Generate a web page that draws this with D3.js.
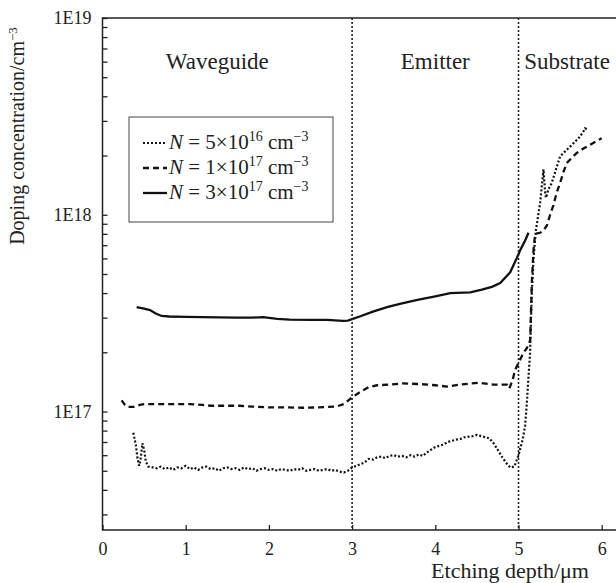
<!DOCTYPE html>
<html>
<head>
<meta charset="utf-8">
<script src="https://cdn.jsdelivr.net/npm/d3@7"></script>
<style>
  body { margin: 0; background: #fff; }
  text { font-family: 'Liberation Serif', 'Times New Roman', Times, 'DejaVu Serif', serif; fill: #222; }
</style>
</head>
<body>
<div id="chart"></div>
<script>
// data: depth in um, doping in cm^-3
const low_x = [0.37, 0.40, 0.42, 0.44, 0.46, 0.48, 0.50, 0.52, 0.55, 0.60, 0.65, 0.70, 0.75, 0.80, 0.85, 0.90, 0.95, 1.00,
    1.05, 1.10, 1.15, 1.20, 1.25, 1.30, 1.35, 1.40, 1.45, 1.50, 1.55, 1.60, 1.65, 1.70, 1.75, 1.80, 1.85, 1.90, 1.95, 2.00,
    2.05, 2.10, 2.15, 2.20, 2.25, 2.30, 2.35, 2.40, 2.45, 2.50, 2.55, 2.60, 2.65, 2.70, 2.75, 2.80, 2.85, 2.90, 2.95, 3.00,
    3.05, 3.10, 3.15, 3.20, 3.25, 3.30, 3.35, 3.40, 3.45, 3.50, 3.55, 3.60, 3.65, 3.70, 3.75, 3.80, 3.85, 3.90, 3.95, 4.00,
    4.05, 4.10, 4.15, 4.20, 4.25, 4.30, 4.35, 4.40, 4.45, 4.50, 4.55, 4.60, 4.65, 4.70, 4.75, 4.80, 4.85, 4.90, 4.95, 5.00,
    5.05, 5.08, 5.10, 5.12, 5.14, 5.15, 5.16, 5.18, 5.21, 5.26, 5.28, 5.30, 5.32, 5.33, 5.36, 5.40, 5.45, 5.50, 5.56, 5.62,
    5.68, 5.74, 5.78, 5.80, 5.82];
const low_y = [7.8e16, 6.8e16, 5.8e16, 5.3e16, 5.8e16, 6.9e16, 6.4e16, 5.6e16, 5.25e16, 5.2e16, 5.15e16, 5.25e16, 5.1e16, 5.2e16, 5.05e16, 5.2e16, 5.15e16, 5.3e16,
    5.1e16, 5.2e16, 5.05e16, 5.2e16, 5.25e16, 5.1e16, 5.15e16, 5.0e16, 5.15e16, 5.2e16, 5.1e16, 5.15e16, 5.05e16, 5.2e16, 5.1e16, 5.15e16, 5.0e16, 5.1e16, 5.15e16, 5.05e16,
    5.1e16, 5.0e16, 5.1e16, 5.05e16, 5.0e16, 5.1e16, 5.05e16, 5.15e16, 5.0e16, 5.05e16, 5.1e16, 5.0e16, 5.05e16, 5.1e16, 5.0e16, 5.05e16, 4.95e16, 4.9e16, 5.0e16, 5.2e16,
    5.3e16, 5.4e16, 5.5e16, 5.75e16, 5.7e16, 5.85e16, 5.9e16, 5.8e16, 5.95e16, 6.0e16, 5.9e16, 5.95e16, 5.85e16, 6.0e16, 5.9e16, 6.05e16, 5.95e16, 6.2e16, 6.4e16, 6.6e16,
    6.7e16, 6.8e16, 7.0e16, 7.1e16, 7.2e16, 7.25e16, 7.4e16, 7.45e16, 7.5e16, 7.6e16, 7.5e16, 7.4e16, 7.3e16, 6.9e16, 6.4e16, 5.9e16, 5.5e16, 5.2e16, 5.25e16, 6.0e16,
    7.2e16, 8.5e16, 1.1e17, 1.5e17, 2.0e17, 2.9e17, 4.0e17, 6.0e17, 8.4e17, 1.15e18, 1.4e18, 1.7e18, 1.3e18, 1.22e18, 1.35e18, 1.45e18, 1.7e18, 1.98e18, 2.1e18, 2.22e18,
    2.35e18, 2.5e18, 2.65e18, 2.75e18, 2.72e18];

const mid_x = [0.23, 0.27, 0.30, 0.37, 0.45, 0.50, 0.70, 0.90, 1.05, 1.20, 1.30, 1.50, 1.65, 1.80, 2.00, 2.20, 2.41, 2.60, 2.81, 2.90,
    3.00, 3.10, 3.20, 3.30, 3.45, 3.60, 3.80, 4.00, 4.14, 4.30, 4.52, 4.70, 4.86, 4.89, 4.93, 4.96, 5.01, 5.06, 5.10, 5.14,
    5.15, 5.16, 5.18, 5.20, 5.26, 5.30, 5.34, 5.38, 5.42, 5.46, 5.50, 5.54, 5.58, 5.64, 5.70, 5.78, 5.86, 5.93, 6.00];
const mid_y = [1.14e17, 1.08e17, 1.055e17, 1.055e17, 1.08e17, 1.09e17, 1.09e17, 1.09e17, 1.09e17, 1.08e17, 1.07e17, 1.07e17, 1.07e17, 1.06e17, 1.05e17, 1.05e17, 1.045e17, 1.05e17, 1.06e17, 1.09e17,
    1.18e17, 1.26e17, 1.33e17, 1.36e17, 1.37e17, 1.39e17, 1.38e17, 1.36e17, 1.34e17, 1.37e17, 1.40e17, 1.37e17, 1.37e17, 1.31e17, 1.45e17, 1.63e17, 1.8e17, 1.99e17, 2.1e17, 2.3e17,
    3.2e17, 4.5e17, 6.6e17, 8.0e17, 8.1e17, 8.3e17, 8.8e17, 1.0e18, 1.12e18, 1.3e18, 1.45e18, 1.65e18, 1.83e18, 1.95e18, 2.06e18, 2.17e18, 2.27e18, 2.36e18, 2.45e18];

const high_x = [0.41, 0.50, 0.57, 0.64, 0.71, 0.80, 1.00, 1.20, 1.40, 1.60, 1.80, 1.93, 2.10, 2.25, 2.50, 2.70, 2.89, 2.95,
    3.00, 3.10, 3.25, 3.43, 3.60, 3.80, 4.00, 4.18, 4.42, 4.56, 4.68, 4.78, 4.90, 4.97, 5.02, 5.08, 5.12];
const high_y = [3.39e17, 3.33e17, 3.28e17, 3.15e17, 3.06e17, 3.04e17, 3.03e17, 3.02e17, 3.01e17, 3.0e17, 3.0e17, 3.02e17, 2.96e17, 2.93e17, 2.92e17, 2.92e17, 2.89e17, 2.9e17,
    2.95e17, 3.05e17, 3.22e17, 3.4e17, 3.55e17, 3.7e17, 3.85e17, 4.0e17, 4.03e17, 4.16e17, 4.3e17, 4.5e17, 5.1e17, 5.9e17, 6.6e17, 7.4e17, 8.1e17];

const series_names = [["5", "16"], ["1", "17"], ["3", "17"]];
const region_names = ["Waveguide", "Emitter", "Substrate"];
const region_bounds = [3, 5];
const x_ticks = [0, 1, 2, 3, 4, 5, 6];

const W = 616, H = 583;
const plot_left = 102.5, plot_right = 601.7, plot_top = 18, plot_bottom = 530;
const FONT = "'Liberation Serif', 'Times New Roman', Times, 'DejaVu Serif', serif";

const svg = d3.select("#chart").append("svg")
    .attr("width", W)
    .attr("height", H)
    .attr("font-family", FONT);

const x = d3.scaleLinear().domain([0, 6]).range([plot_left, plot_right]);
const y = d3.scaleLog().domain([2.5e16, 1e19]).range([plot_bottom, plot_top]);

// curves
const line = d3.line().x(d => x(d[0])).y(d => y(d[1]));
const styles = [
    { w: 2.2, dash: "2,2" },
    { w: 2.3, dash: "6,4" },
    { w: 2.3, dash: null }
];
const series = [d3.zip(low_x, low_y), d3.zip(mid_x, mid_y), d3.zip(high_x, high_y)];

series.forEach((s, i) => {
    svg.append("path")
        .datum(s)
        .attr("d", line)
        .attr("fill", "none")
        .attr("stroke", "#111")
        .attr("stroke-width", styles[i].w)
        .attr("stroke-dasharray", styles[i].dash);
});

// region dividers
region_bounds.forEach(b => {
    svg.append("line")
        .attr("x1", x(b)).attr("x2", x(b))
        .attr("y1", plot_top).attr("y2", plot_bottom)
        .attr("stroke", "#222")
        .attr("stroke-width", 1.6)
        .attr("stroke-dasharray", "2,2");
});

// axes
const yAxis = d3.axisLeft(y)
    .tickSizeInner(-5)
    .tickSizeOuter(0)
    .tickPadding(11)
    .tickFormat(d => {
        let e = Math.round(Math.log10(d));
        return Math.abs(d - Math.pow(10, e)) < 1 ? "1E" + e : "";
    });
const gy = svg.append("g").attr("transform", `translate(${plot_left},0)`).call(yAxis);
gy.attr("font-family", FONT);
gy.select(".domain").remove();
gy.selectAll("line").attr("stroke", "#222").attr("stroke-width", 1.3);
gy.selectAll("text").style("font-size", "18px").attr("fill", "#222");

const xAxis = d3.axisBottom(x)
    .tickValues(x_ticks)
    .tickSizeInner(-5)
    .tickSizeOuter(0)
    .tickPadding(12)
    .tickFormat(d3.format("d"));
const gx = svg.append("g").attr("transform", `translate(0,${plot_bottom})`).call(xAxis);
gx.attr("font-family", FONT);
gx.select(".domain").remove();
gx.selectAll("line").attr("stroke", "#222").attr("stroke-width", 1.3);
gx.selectAll("text").style("font-size", "18px").attr("fill", "#222");

// frame
svg.append("path")
    .attr("d", `M${W},${plot_top}H${plot_left}V${plot_bottom}H${W}`)
    .attr("fill", "none")
    .attr("stroke", "#222")
    .attr("stroke-width", 1.5);

// region labels
const region_pos = [[x(1.38), "middle"], [x(4.0), "middle"], [x(5.07), "start"]];
region_names.forEach((r, i) => {
    svg.append("text")
        .attr("x", region_pos[i][0])
        .attr("y", 69)
        .attr("text-anchor", region_pos[i][1])
        .style("font-size", "23px")
        .text(r);
});

// axis titles
svg.append("text")
    .attr("x", 510)
    .attr("y", 578)
    .attr("text-anchor", "middle")
    .style("font-size", "22px")
    .text("Etching depth/\u03bcm");

const ylab = svg.append("text")
    .attr("transform", "translate(24,136) rotate(-90)")
    .attr("text-anchor", "middle")
    .style("font-size", "20px");
ylab.append("tspan").text("Doping concentration/cm");
ylab.append("tspan").attr("dy", -7).style("font-size", "13px").text("\u22123");

// legend
const legend = svg.append("g");
legend.append("rect")
    .attr("x", 129).attr("y", 117)
    .attr("width", 204).attr("height", 105)
    .attr("fill", "#fff")
    .attr("stroke", "#444")
    .attr("stroke-width", 1);

series_names.forEach((n, i) => {
    let by = 149 + i * 25;
    legend.append("line")
        .attr("x1", 143).attr("x2", 167)
        .attr("y1", by - 6).attr("y2", by - 6)
        .attr("stroke", "#111")
        .attr("stroke-width", styles[i].w)
        .attr("stroke-dasharray", styles[i].dash);
    let t = legend.append("text")
        .attr("x", 169).attr("y", by)
        .style("font-size", "21px");
    t.append("tspan").style("font-style", "italic").text("N");
    t.append("tspan").text(" = " + n[0] + "\u00d710");
    t.append("tspan").attr("dy", -8).style("font-size", "14px").text(n[1]);
    t.append("tspan").attr("dy", 8).text(" cm");
    t.append("tspan").attr("dy", -8).style("font-size", "14px").text("\u22123");
});
</script>
</body>
</html>
